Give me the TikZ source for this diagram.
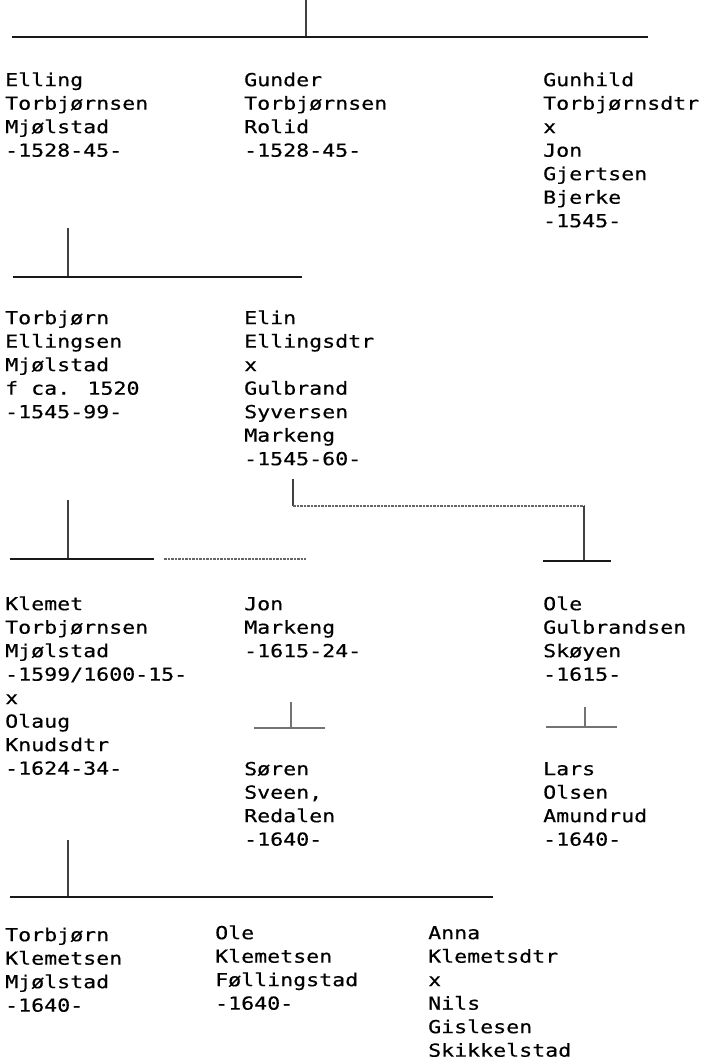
\documentclass[tikz,border=0pt]{standalone}
\usepackage{fontspec}
\newfontfamily\monof[FakeStretch=1.2,FakeBold=0.4]{DejaVu Sans Mono}
\newcommand\mystrut{\rule{0pt}{15pt}}
\begin{document}
\begin{tikzpicture}[x=1pt,y=-1pt,
  person/.style={anchor=north west, inner sep=0pt, align=left,
    font=\monof\fontsize{18}{23.5}\selectfont, text=black},
  bar/.style={line width=2pt, draw=black!90},
  stem/.style={line width=1.3pt, draw=black!75},
  lite/.style={line width=1.5pt, draw=black!55},
  dots/.style={line width=1.4pt, draw=black!60, dash pattern=on 2.5pt off 1pt}]
\useasboundingbox (0,0) rectangle (702,1063);

% ---------- people ----------
\node[person] (elling)  at (5,71)   {\mystrut Elling\\Torbjørnsen\\Mjølstad\\-1528-45-};
\node[person] (gunder)  at (244,71) {\mystrut Gunder\\Torbjørnsen\\Rolid\\-1528-45-};
\node[person] (gunhild) at (543,71) {\mystrut Gunhild\\Torbjørnsdtr\\x\\Jon\\Gjertsen\\Bjerke\\-1545-};

\node[person] (torbjorn) at (5,309)  {\mystrut Torbjørn\\Ellingsen\\Mjølstad\\f ca. 1520\\-1545-99-};
\node[person] (elin)     at (244,309) {\mystrut Elin\\Ellingsdtr\\x\\Gulbrand\\Syversen\\Markeng\\-1545-60-};

\node[person] (klemet) at (5,595)   {\mystrut Klemet\\Torbjørnsen\\Mjølstad\\-1599/1600-15-\\x\\Olaug\\Knudsdtr\\-1624-34-};
\node[person] (jon)    at (244,595) {\mystrut Jon\\Markeng\\-1615-24-};
\node[person] (ole)    at (543,595) {\mystrut Ole\\Gulbrandsen\\Skøyen\\-1615-};

\node[person] (soren) at (244,760) {\mystrut Søren\\Sveen,\\Redalen\\-1640-};
\node[person] (lars)  at (543,760) {\mystrut Lars\\Olsen\\Amundrud\\-1640-};

\node[person] (torbk) at (5,926)   {\mystrut Torbjørn\\Klemetsen\\Mjølstad\\-1640-};
\node[person] (olek)  at (215,924) {\mystrut Ole\\Klemetsen\\Føllingstad\\-1640-};
\node[person] (anna)  at (428,924) {\mystrut Anna\\Klemetsdtr\\x\\Nils\\Gislesen\\Skikkelstad};

% ---------- connector points ----------
\coordinate (t0) at (306,0);   \coordinate (t1) at (306,37);
\coordinate (tL) at (12,37);   \coordinate (tR) at (648,37);

\coordinate (e0) at (68,228);  \coordinate (e1) at (68,277);
\coordinate (eL) at (13,277);  \coordinate (eR) at (302,277);

\coordinate (k0) at (68,500);  \coordinate (k1) at (68,559);
\coordinate (kL) at (10,559);  \coordinate (kR) at (154,559);
\coordinate (kD0) at (164,559); \coordinate (kD1) at (306,559);

\coordinate (g0) at (293,479); \coordinate (g1) at (293,506);
\coordinate (g2) at (584,506); \coordinate (g3) at (584,560);
\coordinate (gL) at (543,561); \coordinate (gR) at (611,561);

\coordinate (j0) at (291,702); \coordinate (j1) at (291,728);
\coordinate (jL) at (254,728); \coordinate (jR) at (325,728);

\coordinate (o0) at (585,707); \coordinate (o1) at (585,727);
\coordinate (oL) at (546,727); \coordinate (oR) at (617,727);

\coordinate (c0) at (68,840);  \coordinate (c1) at (68,897);
\coordinate (cL) at (10,897);  \coordinate (cR) at (493,897);

% ---------- connectors ----------
\draw[stem] (t0) -- (t1);
\draw[bar]  (tL) -- (tR);

\draw[stem] (e0) -- (e1);
\draw[bar]  (eL) -- (eR);

\draw[stem] (k0) -- (k1);
\draw[bar]  (kL) -- (kR);
\draw[dots] (kD0) -- (kD1);

\draw[stem] (g0) -- (g1);
\draw[dots] (g1) -- (g2);
\draw[stem] (g2) -- (g3);
\draw[bar]  (gL) -- (gR);

\draw[lite] (j0) -- (j1);
\draw[lite] (jL) -- (jR);

\draw[lite] (o0) -- (o1);
\draw[lite] (oL) -- (oR);

\draw[stem] (c0) -- (c1);
\draw[bar]  (cL) -- (cR);
\end{tikzpicture}
\end{document}
